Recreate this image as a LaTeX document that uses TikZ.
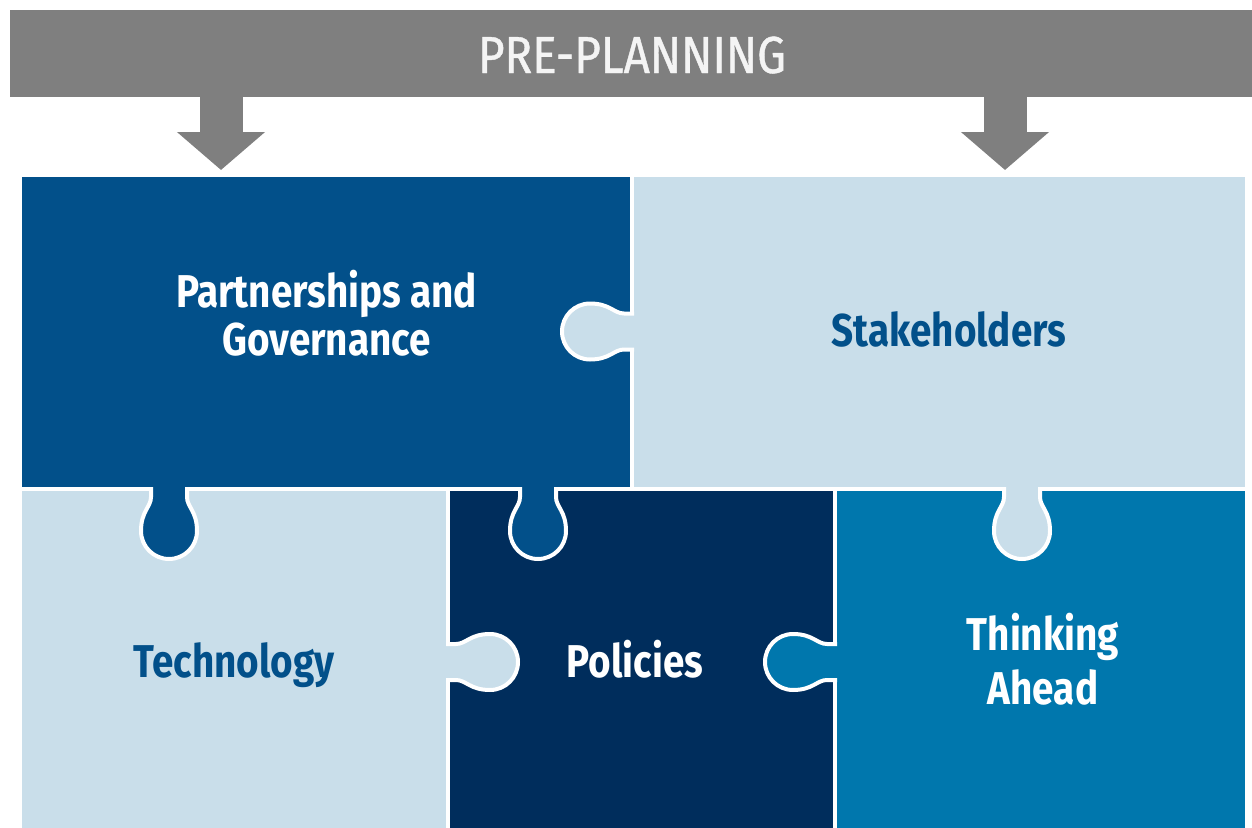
\documentclass[tikz,border=0pt]{standalone}
\usepackage{fontspec}
\usetikzlibrary{arrows.meta}
\newfontfamily\piecefont{Fira Sans}[FakeStretch=0.84]
\newfontfamily\bannerfont{Fira Sans}[FakeStretch=0.88, FakeBold=0.8]

\definecolor{ppGray}{HTML}{7F7F7F}
\definecolor{ppBannerText}{HTML}{F4F4F4}
\definecolor{ppBlue}{HTML}{02508A}
\definecolor{ppLight}{HTML}{C9DEEA}
\definecolor{ppNavy}{HTML}{002D5C}
\definecolor{ppMid}{HTML}{0077AD}

\tikzset{
  piece/.style={draw=none, inner sep=0pt, outer sep=0pt, anchor=north west},
  darklabel/.style={font=\piecefont\bfseries\fontsize{46bp}{48bp}\selectfont, text=white, align=center, anchor=base},
  lightlabel/.style={font=\piecefont\bfseries\fontsize{46bp}{48bp}\selectfont, text=ppBlue, align=center, anchor=base},
  downarrow/.style={draw=ppGray, line width=43bp, -{Triangle[width=86bp,length=38bp]}},
}

% one jigsaw tab: #1 colour of the piece that owns it, #2 placement
\newcommand\puzzletab[2]{%
  \begin{scope}[#2]
    \fill[#1] (-4,-18) -- (8,-18) .. controls (18,-18) and (22,-28) .. (42,-28)
      .. controls (57.46,-28) and (70,-15.46) .. (70,0)
      .. controls (70,15.46) and (57.46,28) .. (42,28)
      .. controls (22,28) and (18,18) .. (8,18) -- (-4,18) -- cycle;
    \draw[white, line width=4bp] (-2,-18) -- (8,-18) .. controls (18,-18) and (22,-28) .. (42,-28)
      .. controls (57.46,-28) and (70,-15.46) .. (70,0)
      .. controls (70,15.46) and (57.46,28) .. (42,28)
      .. controls (22,28) and (18,18) .. (8,18) -- (-2,18);
  \end{scope}}

\begin{document}
\begin{tikzpicture}[x=1bp, y=-1bp]
  \useasboundingbox (0,0) rectangle (1252,828);

  % header bar
  \node[draw=none, fill=ppGray, inner sep=0pt, minimum width=1242bp, minimum height=87bp]
        (banner) at (631,53.5) {};
  \node[text=ppBannerText, font=\bannerfont\fontsize{52bp}{56bp}\selectfont, anchor=base, inner sep=0pt]
        (bannertext) at (632,73) {PRE-PLANNING};

  % the five puzzle pieces
  \node[piece, fill=ppBlue,  minimum width=608bp, minimum height=310bp] (tl) at (22,177) {};
  \node[piece, fill=ppLight, minimum width=611bp, minimum height=310bp] (tr) at (634,177) {};
  \node[piece, fill=ppLight, minimum width=424bp, minimum height=337bp] (bl) at (22,491) {};
  \node[piece, fill=ppNavy,  minimum width=383bp, minimum height=337bp] (bm) at (450,491) {};
  \node[piece, fill=ppMid,   minimum width=408bp, minimum height=337bp] (br) at (837,491) {};

  % tabs linking the pieces
  \puzzletab{ppLight}{shift={(632,331.5)}, xscale=-1}
  \puzzletab{ppBlue}{shift={(169,489)}, rotate=-90}
  \puzzletab{ppBlue}{shift={(538,489)}, rotate=-90}
  \puzzletab{ppLight}{shift={(448,662)}}
  \puzzletab{ppMid}{shift={(835,662)}, xscale=-1}
  \puzzletab{ppLight}{shift={(1022,489)}, rotate=-90}

  % arrows from the header
  \coordinate (a1) at (221,170);
  \coordinate (a2) at (1005,170);
  \draw[downarrow] (banner.south -| a1) -- (a1);
  \draw[downarrow] (banner.south -| a2) -- (a2);

  % labels (base anchor sits on the last line)
  \node[darklabel]  (ltl) at (326.5,355) {Partnerships and\\Governance};
  \node[lightlabel] (ltr) at (949,346)   {Stakeholders};
  \node[lightlabel] (lbl) at (234,677)   {Technology};
  \node[darklabel]  (lbm) at (635,677)   {Policies};
  \node[darklabel, font=\piecefont\bfseries\fontsize{46bp}{54bp}\selectfont]
                    (lbr) at (1043,704)  {Thinking\\Ahead};
\end{tikzpicture}
\end{document}
